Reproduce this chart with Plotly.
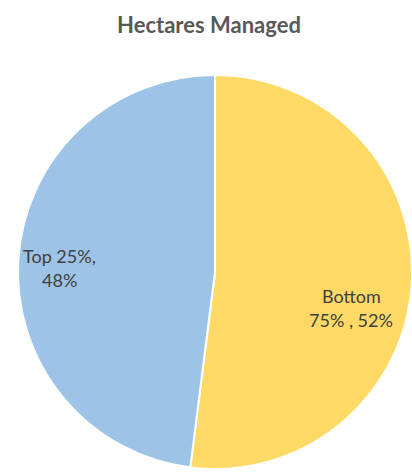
import plotly.graph_objects as go

# Share of hectares managed by farm group
groups = ["Bottom 75%", "Top 25%"]
shares = [52, 48]
colors = ["#FFD966", "#9DC3E6"]

# Label text lines drawn inside each slice
label_lines = [
    ["Bottom", f"75% , {shares[0]}%"],
    ["Top 25%,", f"{shares[1]}%"],
]
# Label anchor (paper coords) per slice
label_pos = [(0.852, 0.373), (0.145, 0.458)]
line_gap = 0.051

W, H = 412, 472

fig = go.Figure(
    go.Pie(
        labels=groups,
        values=shares,
        sort=False,
        direction="clockwise",
        rotation=0,
        marker=dict(colors=colors, line=dict(color="white", width=2)),
        textinfo="none",
        hoverinfo="label+percent",
        showlegend=False,
        domain=dict(x=[18 / W, 1.0], y=[0.0, 1 - 72 / H]),
    )
)

annotations = []
for (x, y), lines in zip(label_pos, label_lines):
    for i, line in enumerate(lines):
        annotations.append(
            dict(
                x=x,
                y=y - i * line_gap,
                xref="paper",
                yref="paper",
                text=line,
                showarrow=False,
                xanchor="center",
                yanchor="middle",
                font=dict(family="Lato, Open Sans, sans-serif", size=18, color="#404040"),
            )
        )

fig.update_layout(
    width=W,
    height=H,
    margin=dict(l=0, r=0, t=0, b=0),
    paper_bgcolor="white",
    plot_bgcolor="white",
    title=dict(
        text="<b>Hectares Managed</b>",
        x=209 / W,
        xanchor="center",
        y=1 - 25 / H,
        yanchor="middle",
        font=dict(family="Lato, Open Sans, sans-serif", size=22, color="#595959"),
    ),
    annotations=annotations,
)

fig.write_html("out.html")
